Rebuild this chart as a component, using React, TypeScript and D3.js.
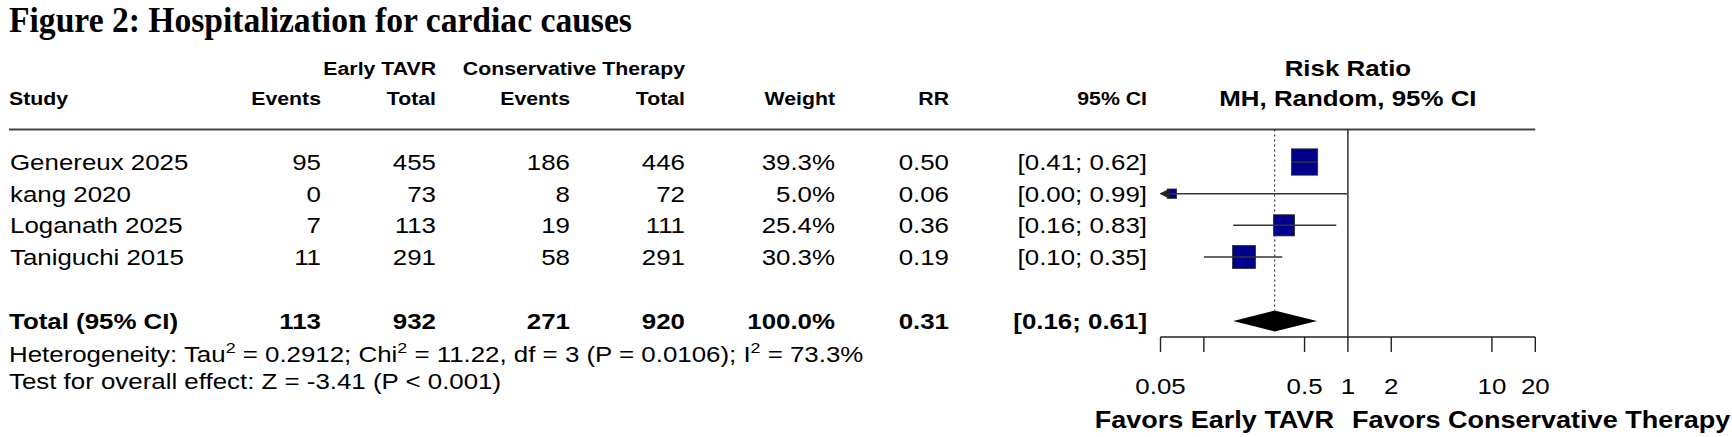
import React from "react";
import * as d3 from "d3";

// ---------- data ----------
const studies = ["Genereux 2025", "kang 2020", "Loganath 2025", "Taniguchi 2015"];
const eventsE = [95, 0, 7, 11];
const totalE = [455, 73, 113, 291];
const eventsC = [186, 8, 19, 58];
const totalC = [446, 72, 111, 291];
const weights = [39.3, 5.0, 25.4, 30.3];
const rr = [0.5, 0.06, 0.36, 0.19];
const lower = [0.41, 0.0, 0.16, 0.1];
const upper = [0.62, 0.99, 0.83, 0.35];

const pooledEventsE = 113;
const pooledTotalE = 932;
const pooledEventsC = 271;
const pooledTotalC = 920;
const pooledWeight = 100.0;
const pooledRR = 0.31;
const pooledLower = 0.16;
const pooledUpper = 0.61;

const tickValues = [0.05, 0.1, 0.5, 1, 2, 10, 20];
const tickLabels = ["0.05", "", "0.5", "1", "2", "10", "20"];

// ---------- layout ----------
const W = 1732;
const H = 437;
const SX = 1.15; // horizontal stretch of the original figure
const SANS = "'Liberation Sans', Arial, Helvetica, sans-serif";
const SERIF = "'Liberation Serif', 'Times New Roman', serif";

const FS_ROW = 22.5;
const FS_HEAD = 18.5;

const colX = {
  study: 10,
  eventsE: 321,
  totalE: 436,
  eventsC: 570,
  totalC: 685,
  weight: 835,
  rr: 949,
  ci: 1147,
};

const rowY = d3.scaleLinear().domain([0, 3]).range([162, 257]);
const totalY = 321;

const x = d3.scaleLog().domain([0.05, 20]).range([1160.5, 1535.3]);

function T({
  x: tx,
  y: ty,
  anchor = "start",
  size = FS_ROW,
  bold = false,
  children,
}: {
  x: number;
  y: number;
  anchor?: "start" | "middle" | "end";
  size?: number;
  bold?: boolean;
  children: React.ReactNode;
}) {
  return (
    <text
      transform={`translate(${tx},${ty}) scale(${SX},1)`}
      textAnchor={anchor}
      fontSize={size}
      fontFamily={SANS}
      fontWeight={bold ? "bold" : "normal"}
      fill="#000"
    >
      {children}
    </text>
  );
}

const fmt2 = d3.format(".2f");
const fmtW = (v: number) => d3.format(".1f")(v) + "%";

export default function App() {
  const x1 = x(1);
  const xPooled = x(pooledRR);
  const ruleY = 129.5;
  const axisY = 337;
  const dHalf = 10.5;

  return (
    <svg
      width={W}
      height={H}
      style={{ position: "absolute", left: 0, top: 0, display: "block", background: "#fff" }}
    >
      <rect x={0} y={0} width={W} height={H} fill="#fff" />
      {/* title */}
      <text
        transform="translate(9,32) scale(0.96,1)"
        fontFamily={SERIF}
        fontWeight="bold"
        fontSize={35}
      >
        Figure 2: Hospitalization for cardiac causes
      </text>

      {/* headers */}
      <T x={colX.totalE} y={75} anchor="end" size={FS_HEAD} bold>Early TAVR</T>
      <T x={colX.totalC} y={75} anchor="end" size={FS_HEAD} bold>Conservative Therapy</T>
      <T x={9} y={105} size={FS_HEAD} bold>Study</T>
      <T x={colX.eventsE} y={105} anchor="end" size={FS_HEAD} bold>Events</T>
      <T x={colX.totalE} y={105} anchor="end" size={FS_HEAD} bold>Total</T>
      <T x={colX.eventsC} y={105} anchor="end" size={FS_HEAD} bold>Events</T>
      <T x={colX.totalC} y={105} anchor="end" size={FS_HEAD} bold>Total</T>
      <T x={colX.weight} y={105} anchor="end" size={FS_HEAD} bold>Weight</T>
      <T x={colX.rr} y={105} anchor="end" size={FS_HEAD} bold>RR</T>
      <T x={colX.ci} y={105} anchor="end" size={FS_HEAD} bold>95% CI</T>
      <T x={x1} y={76} anchor="middle" bold>Risk Ratio</T>
      <T x={x1} y={106} anchor="middle" bold>MH, Random, 95% CI</T>

      {/* rule */}
      <line x1={9} x2={x(20)} y1={ruleY} y2={ruleY} stroke="#444" strokeWidth={2} />

      {/* reference lines */}
      <line x1={x1} x2={x1} y1={ruleY} y2={axisY} stroke="#222" strokeWidth={1.4} />
      <line
        x1={xPooled}
        x2={xPooled}
        y1={ruleY}
        y2={totalY - dHalf}
        stroke="#333"
        strokeWidth={1.2}
        strokeDasharray="2,3"
      />

      {/* study rows */}
      {studies.map((s, i) => {
        const cy = rowY(i);
        const by = cy + 8;
        const size = 4.2 * Math.sqrt(weights[i]);
        const lo = lower[i] < x.domain()[0];
        const xl = lo ? x.range()[0] : x(lower[i]);
        const xu = x(Math.min(upper[i], x.domain()[1]));
        const xm = x(rr[i]);
        return (
          <g key={s}>
            <T x={colX.study} y={by}>{s}</T>
            <T x={colX.eventsE} y={by} anchor="end">{eventsE[i]}</T>
            <T x={colX.totalE} y={by} anchor="end">{totalE[i]}</T>
            <T x={colX.eventsC} y={by} anchor="end">{eventsC[i]}</T>
            <T x={colX.totalC} y={by} anchor="end">{totalC[i]}</T>
            <T x={colX.weight} y={by} anchor="end">{fmtW(weights[i])}</T>
            <T x={colX.rr} y={by} anchor="end">{fmt2(rr[i])}</T>
            <T x={colX.ci} y={by} anchor="end">{`[${fmt2(lower[i])}; ${fmt2(upper[i])}]`}</T>
            <rect
              x={xm - size / 2}
              y={cy - size / 2}
              width={size}
              height={size}
              fill="#00008B"
              stroke="#333"
              strokeWidth={0.8}
            />
            <line x1={xl} x2={xu} y1={cy} y2={cy} stroke="#333" strokeWidth={1.5} />
            {lo && (
              <path
                d={`M${xl},${cy} L${xl + 8},${cy - 4} L${xl + 8},${cy + 4} Z`}
                fill="#222"
                stroke="#222"
              />
            )}
          </g>
        );
      })}

      {/* pooled row */}
      <T x={9} y={totalY + 8} bold>Total (95% CI)</T>
      <T x={colX.eventsE} y={totalY + 8} anchor="end" bold>{pooledEventsE}</T>
      <T x={colX.totalE} y={totalY + 8} anchor="end" bold>{pooledTotalE}</T>
      <T x={colX.eventsC} y={totalY + 8} anchor="end" bold>{pooledEventsC}</T>
      <T x={colX.totalC} y={totalY + 8} anchor="end" bold>{pooledTotalC}</T>
      <T x={colX.weight} y={totalY + 8} anchor="end" bold>{fmtW(pooledWeight)}</T>
      <T x={colX.rr} y={totalY + 8} anchor="end" bold>{fmt2(pooledRR)}</T>
      <T x={colX.ci} y={totalY + 8} anchor="end" bold>{`[${fmt2(pooledLower)}; ${fmt2(pooledUpper)}]`}</T>
      <path
        d={`M${x(pooledLower)},${totalY} L${xPooled},${totalY - dHalf} L${x(pooledUpper)},${totalY} L${xPooled},${totalY + dHalf} Z`}
        fill="#000"
      />

      {/* heterogeneity */}
      <T x={9} y={362}>
        <tspan>Heterogeneity: Tau</tspan>
        <tspan fontSize={15.5} dy={-9}>2</tspan>
        <tspan dy={9}> = 0.2912; Chi</tspan>
        <tspan fontSize={15.5} dy={-9}>2</tspan>
        <tspan dy={9}> = 11.22, df = 3 (P = 0.0106); I</tspan>
        <tspan fontSize={15.5} dy={-9}>2</tspan>
        <tspan dy={9}> = 73.3%</tspan>
      </T>
      <T x={9} y={389}>Test for overall effect: Z = -3.41 (P &lt; 0.001)</T>

      {/* axis */}
      <line x1={x.range()[0]} x2={x.range()[1]} y1={axisY} y2={axisY} stroke="#222" strokeWidth={1.4} />
      {tickValues.map((t, i) => (
        <g key={t}>
          <line x1={x(t)} x2={x(t)} y1={axisY} y2={axisY + 15} stroke="#222" strokeWidth={1.4} />
          {tickLabels[i] && (
            <T x={x(t)} y={394} anchor="middle">{tickLabels[i]}</T>
          )}
        </g>
      ))}
      <T x={x1 - 14} y={428} anchor="end" size={23.5} bold>Favors Early TAVR</T>
      <T x={x1 + 4} y={428} anchor="start" size={23.5} bold>Favors Conservative Therapy</T>
    </svg>
  );
}
